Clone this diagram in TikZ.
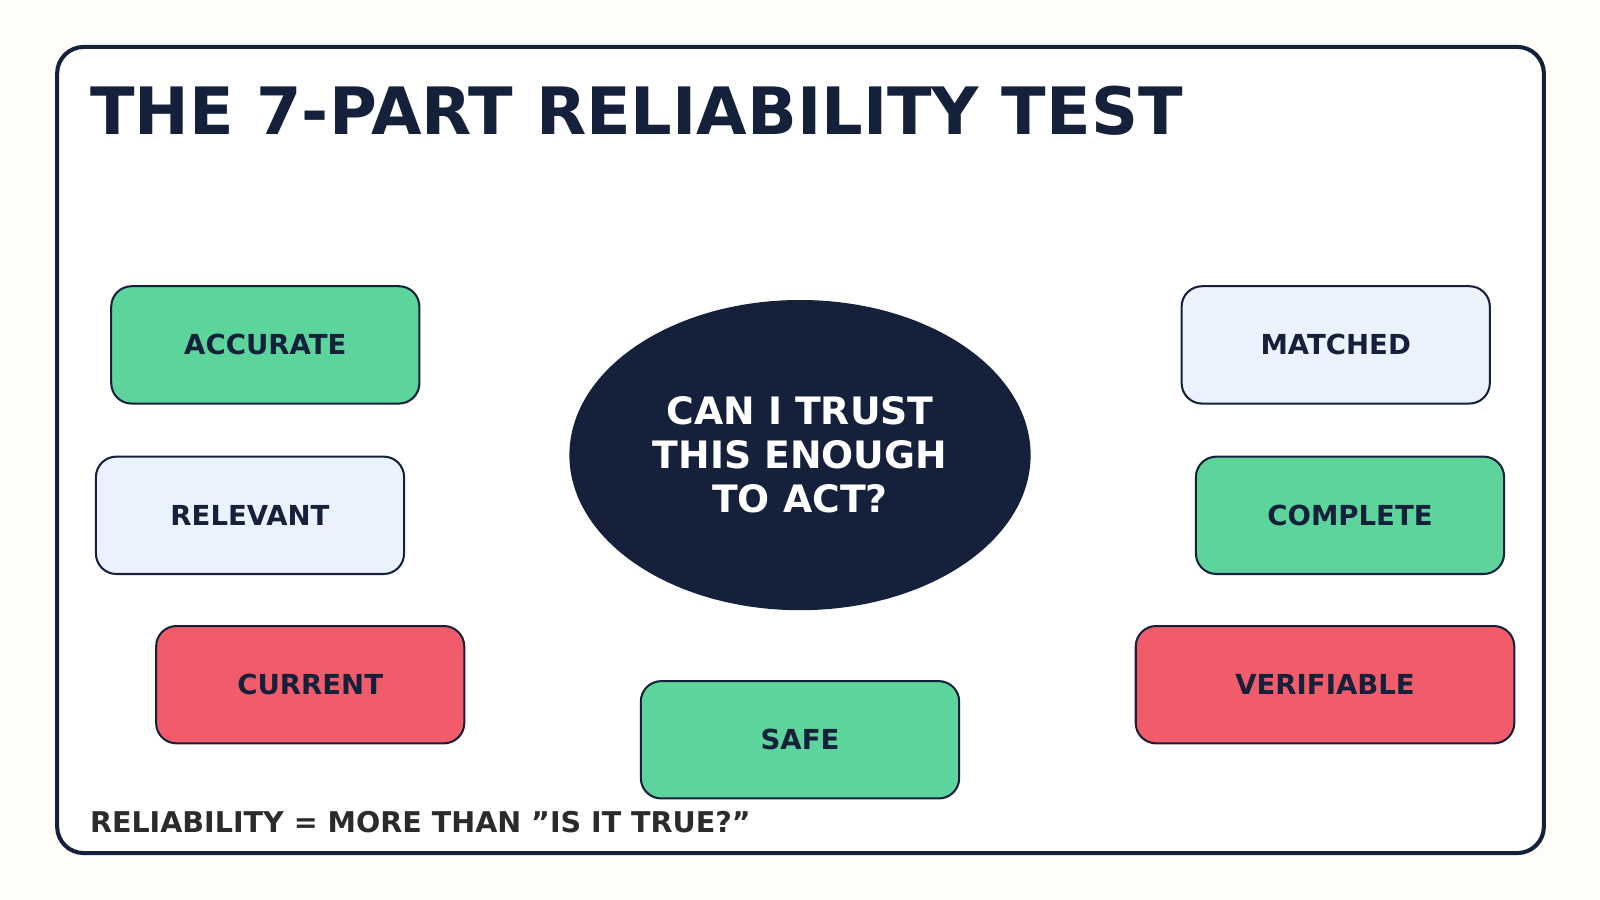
\documentclass[tikz,border=0pt]{standalone}
\usepackage{fontspec}
\setmainfont{DejaVu Sans}
\usetikzlibrary{shapes.geometric}
\definecolor{navy}{HTML}{15213B}
\definecolor{grn}{HTML}{5CD49C}
\definecolor{lbl}{HTML}{EAF3FD}
\definecolor{rd}{HTML}{F25C6A}
\definecolor{bg}{HTML}{FFFDF8}
\begin{document}
\begin{tikzpicture}[x=1pt,y=-1pt,
  box/.style={draw=navy,line width=2pt,rounded corners=20pt,minimum width=302pt,minimum height=115pt,inner sep=0pt,text=navy,font=\fontsize{27}{32}\selectfont\bfseries}]
\fill[bg] (0,0) rectangle (1568,882);
\useasboundingbox (0,0) rectangle (1568,882);
\draw[navy,fill=white,line width=4pt,rounded corners=26pt] (56,46) rectangle (1513,836);
\node[anchor=base west,inner sep=0,text=navy,font=\fontsize{64}{70}\selectfont\bfseries] (title) at (88,132) {THE 7-PART RELIABILITY TEST};
\node[ellipse,fill=navy,minimum width=452pt,minimum height=304pt,inner sep=0,text=white,align=center,font=\fontsize{37}{43}\selectfont\bfseries] (q) at (784,446) {CAN I TRUST\\THIS ENOUGH\\TO ACT?};
\node[box,fill=grn] (acc) at (260,338) {ACCURATE};
\node[box,fill=lbl] (rel) at (245,505) {RELEVANT};
\node[box,fill=rd] (cur) at (304,671) {CURRENT};
\node[box,fill=lbl] (mat) at (1309,338) {MATCHED};
\node[box,fill=grn] (com) at (1323,505) {COMPLETE};
\node[box,fill=rd,minimum width=371pt] (ver) at (1298.5,671) {VERIFIABLE};
\node[box,fill=grn,minimum width=312pt] (safe) at (784,725) {SAFE};
\node[anchor=base west,inner sep=0,text=black!83,font=\fontsize{28}{32}\selectfont\bfseries] (foot) at (88,816) {RELIABILITY = MORE THAN "IS IT TRUE?"};
\end{tikzpicture}
\end{document}
